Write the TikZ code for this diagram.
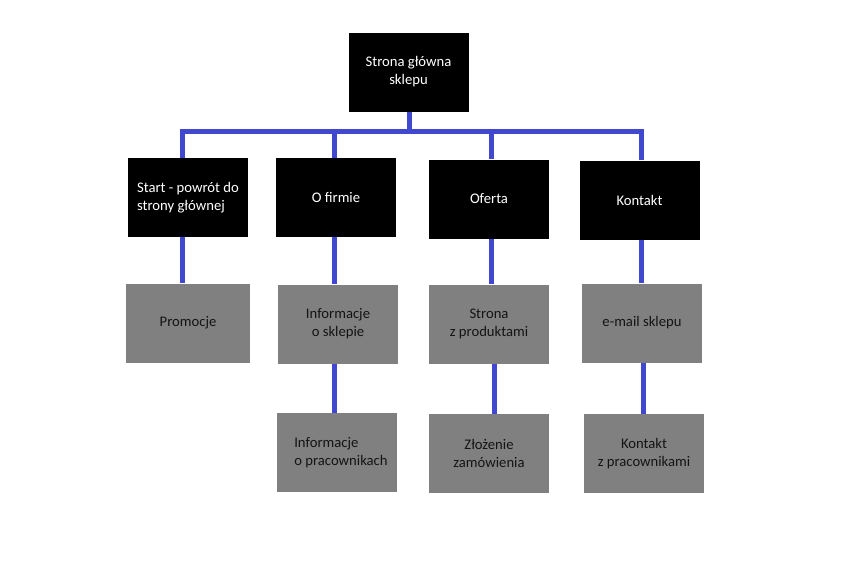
\documentclass[tikz,border=0pt]{standalone}
\usepackage{fontspec}
\setmainfont{Carlito}
\definecolor{busblue}{RGB}{64,72,208}
\definecolor{boxgray}{RGB}{128,128,128}
\definecolor{darktext}{RGB}{20,20,20}
\begin{document}
\begin{tikzpicture}[x=0.75pt,y=-0.75pt,
  topbox/.style={fill=black,text=white,minimum width=90pt,minimum height=59.25pt,inner sep=0pt,align=center,font=\fontsize{11}{13.5}\selectfont},
  subbox/.style={fill=boxgray,text=darktext,minimum width=90pt,minimum height=59.25pt,inner sep=0pt,align=center,font=\fontsize{11}{13.5}\selectfont},
  conn/.style={draw=busblue,line width=3.75pt}]
\useasboundingbox (0,0) rectangle (858,562);
% nodes
\node[topbox] (root) at (408.5,72) {Strona główna\\sklepu};
\node[topbox,align=left] (start) at (188,197.5) {Start - powrót do\\strony głównej};
\node[topbox] (firma) at (336,197.5) {O firmie};
\node[topbox] (oferta) at (489,199) {Oferta};
\node[topbox] (kontakt) at (639.5,200) {Kontakt};
\node[subbox,minimum width=93pt] (promo) at (188,323) {Promocje};
\node[subbox] (infsklep) at (338,324) {Informacje\\o sklepie};
\node[subbox] (infprac) at (337,452.5) {\hspace*{6pt}Informacje\hspace*{22pt}\\\hspace*{6pt}o pracownikach};
\node[subbox] (produkty) at (489,324) {Strona\\z produktami};
\node[subbox] (zamow) at (489,453.5) {Złożenie\\zamówienia};
\node[subbox] (email) at (642,323) {e-mail sklepu};
\node[subbox] (kprac) at (644,453.5) {Kontakt\\z pracownikami};
% stem coordinates
\coordinate (bus) at (409,131);
\coordinate (k1) at (182,131);
\coordinate (k2) at (334.5,131);
\coordinate (k3) at (491,131);
\coordinate (k4) at (641,131);
\coordinate (k5) at (494,131);
\coordinate (k6) at (643,131);
% connectors
\draw[conn] (root.south -| bus) -- (bus);
\draw[conn,line cap=rect] (k1) -- (k4);
\draw[conn] (k1) -- (k1 |- start.north);
\draw[conn] (k2) -- (k2 |- firma.north);
\draw[conn] (k3) -- (k3 |- oferta.north);
\draw[conn] (k4) -- (k4 |- kontakt.north);
\draw[conn] (start.south -| k1) -- (promo.north -| k1);
\draw[conn] (firma.south -| k2) -- (infsklep.north -| k2);
\draw[conn] (oferta.south -| k3) -- (produkty.north -| k3);
\draw[conn] (kontakt.south -| k4) -- (email.north -| k4);
\draw[conn] (infsklep.south -| k2) -- (infprac.north -| k2);
\draw[conn] (produkty.south -| k5) -- (zamow.north -| k5);
\draw[conn] (email.south -| k6) -- (kprac.north -| k6);
\end{tikzpicture}
\end{document}
